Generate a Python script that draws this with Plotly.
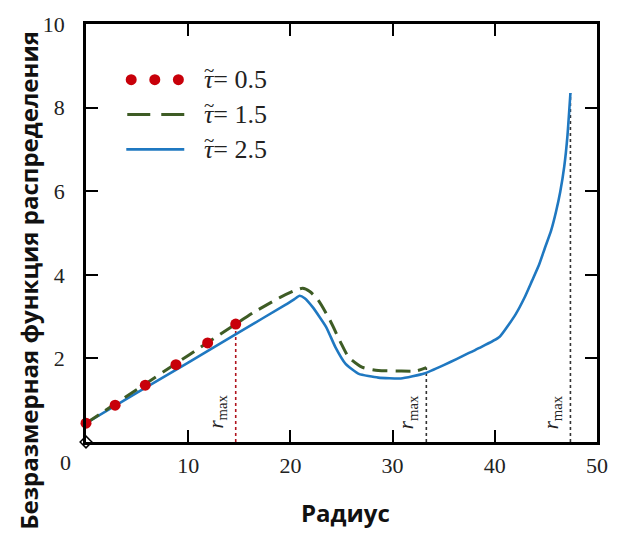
import plotly.graph_objects as go

# ---- data ----
red_x = [0, 2.85, 5.8, 8.8, 11.9, 14.65]
red_y = [0.45, 0.88, 1.36, 1.85, 2.37, 2.82]

green_x = [0, 5, 10, 14.7, 16.4, 19.0, 20.4, 21.2, 21.9, 22.7, 23.9, 24.9, 25.7, 27.0, 28.6, 30.5, 32.3, 33.3]
green_y = [0.45, 1.26, 2.07, 2.83, 3.10, 3.46, 3.62, 3.68, 3.60, 3.40, 2.90, 2.39, 2.03, 1.79, 1.71, 1.70, 1.70, 1.78]

blue_x = [0, 5, 10, 15, 19.5, 20.4, 20.9, 21.4, 22.2, 23.5, 24.4, 25.4, 26.7, 28.6, 30.8, 33.1, 35.0, 36.3,
          38.5, 40.45, 42.05, 42.9, 43.65, 44.3, 44.9, 45.5, 46.0, 46.4, 46.8, 47.1, 47.4]
blue_y = [0.45, 1.18, 1.90, 2.63, 3.28, 3.42, 3.50, 3.44, 3.22, 2.75, 2.27, 1.87, 1.63, 1.54, 1.52, 1.64, 1.84, 1.99,
          2.25, 2.51, 3.06, 3.45, 3.86, 4.22, 4.64, 5.05, 5.52, 5.98, 6.60, 7.30, 8.35]

tau_values = ["0.5", "1.5", "2.5"]
x_ticks = [10, 20, 30, 40, 50]
y_ticks = [2, 4, 6, 8, 10]
origin_x = [0]
origin_y = [0]

RED = "#c8000a"
GREEN = "#3e5c25"
BLUE = "#1f78c1"
SERIF = "Liberation Serif"
SANS = "Open Sans"

fig = go.Figure()

# r_max dotted verticals (from axis to the end of each curve)
rmax_info = [
    (red_x[-1], red_y[-1], "#b0141e"),
    (green_x[-1], green_y[-1], "#333333"),
    (blue_x[-1], blue_y[-1], "#333333"),
]
for rx, ry, col in rmax_info:
    fig.add_trace(go.Scatter(x=[rx, rx], y=[0, ry], mode="lines",
                             line=dict(color=col, width=1.6, dash="dot"),
                             showlegend=False, hoverinfo="skip"))

fig.add_trace(go.Scatter(x=blue_x, y=blue_y, mode="lines", name="τ̃ = " + tau_values[2],
                         line=dict(color=BLUE, width=2.6, shape="spline", smoothing=0.45),
                         showlegend=False, cliponaxis=False))
fig.add_trace(go.Scatter(x=green_x, y=green_y, mode="lines", name="τ̃ = " + tau_values[1],
                         line=dict(color=GREEN, width=3, dash="15px,8px", shape="spline", smoothing=0.6),
                         showlegend=False, cliponaxis=False))
fig.add_trace(go.Scatter(x=red_x, y=red_y, mode="markers", name="τ̃ = " + tau_values[0],
                         marker=dict(color=RED, size=11),
                         showlegend=False, cliponaxis=False))
fig.add_trace(go.Scatter(x=origin_x, y=origin_y, mode="markers",
                         marker=dict(symbol="diamond-open", color="black", size=9, line=dict(width=1.5)),
                         showlegend=False, cliponaxis=False, hoverinfo="skip"))

# r_max labels
for rx, ry, col in rmax_info:
    fig.add_annotation(x=rx, y=0.72, xref="x", yref="y", xshift=-19,
                       text="<i>r</i><sub>max</sub>", textangle=-90, showarrow=False,
                       font=dict(family=SERIF, size=21, color="#222"))

# manual legend (layout decoration)
L, R = 86, 606
T, B = 22, 442
def px(xp):
    return (xp - L) / (R - L)
def py(yp):
    return (B - yp) / (B - T)

for cx in [132, 156, 180]:
    fig.add_shape(type="circle", xref="paper", yref="paper", xsizemode="pixel", ysizemode="pixel",
                  xanchor=px(cx), yanchor=py(78), x0=-5.5, x1=5.5, y0=-5.5, y1=5.5,
                  fillcolor=RED, line=dict(color=RED, width=0))
fig.add_shape(type="line", xref="paper", yref="paper", x0=px(128), x1=px(186), y0=py(113), y1=py(113),
              line=dict(color=GREEN, width=3, dash="23px,11px"))
fig.add_shape(type="line", xref="paper", yref="paper", x0=px(127), x1=px(186), y0=py(148), y1=py(148),
              line=dict(color=BLUE, width=2.6))
for val, yp in zip(tau_values, [78, 113, 148]):
    fig.add_annotation(x=px(204), y=py(yp), xref="paper", yref="paper", xanchor="left", yanchor="middle",
                       text="<i>τ</i>= " + val, showarrow=False,
                       font=dict(family=SERIF, size=26, color="#222"))
    fig.add_annotation(x=px(211), y=py(yp - 9), xref="paper", yref="paper", xanchor="center", yanchor="middle",
                       text="~", showarrow=False,
                       font=dict(family=SERIF, size=19, color="#222"))

# corner "0"
fig.add_annotation(x=px(65), y=py(463), xref="paper", yref="paper", text="0", showarrow=False,
                   xanchor="center", yanchor="middle",
                   font=dict(family=SERIF, size=22, color="#222"))

# y-axis title
fig.add_annotation(x=px(28), y=py(280), xref="paper", yref="paper", text="<b>Безразмерная функция распределения</b>",
                   textangle=-90, showarrow=False, xanchor="center", yanchor="middle",
                   font=dict(family=SANS, size=24, color="#111"))
# x-axis title
fig.add_annotation(x=px(350), y=py(513), xref="paper", yref="paper", text="<b>Радиус</b>",
                   showarrow=False, xanchor="center", yanchor="middle",
                   font=dict(family=SANS, size=24, color="#111"))

axis_common = dict(showline=True, linecolor="black", linewidth=2.5, mirror="ticks",
                   ticks="inside", ticklen=12, tickwidth=2, tickcolor="black",
                   showgrid=False, zeroline=False,
                   tickfont=dict(family=SERIF, size=22, color="#222"))
fig.update_xaxes(range=[0, 50], tickvals=x_ticks, ticktext=[str(v) for v in x_ticks],
                 ticklabelstandoff=2, **axis_common)
fig.update_yaxes(range=[0, 10], tickvals=y_ticks, ticktext=[str(v) for v in y_ticks],
                 ticklabelstandoff=14, **axis_common)

fig.update_layout(width=620, height=536, margin=dict(l=L, r=620 - R, t=T, b=536 - B),
                  plot_bgcolor="white", paper_bgcolor="white", showlegend=False)

fig.write_html("out.html")
